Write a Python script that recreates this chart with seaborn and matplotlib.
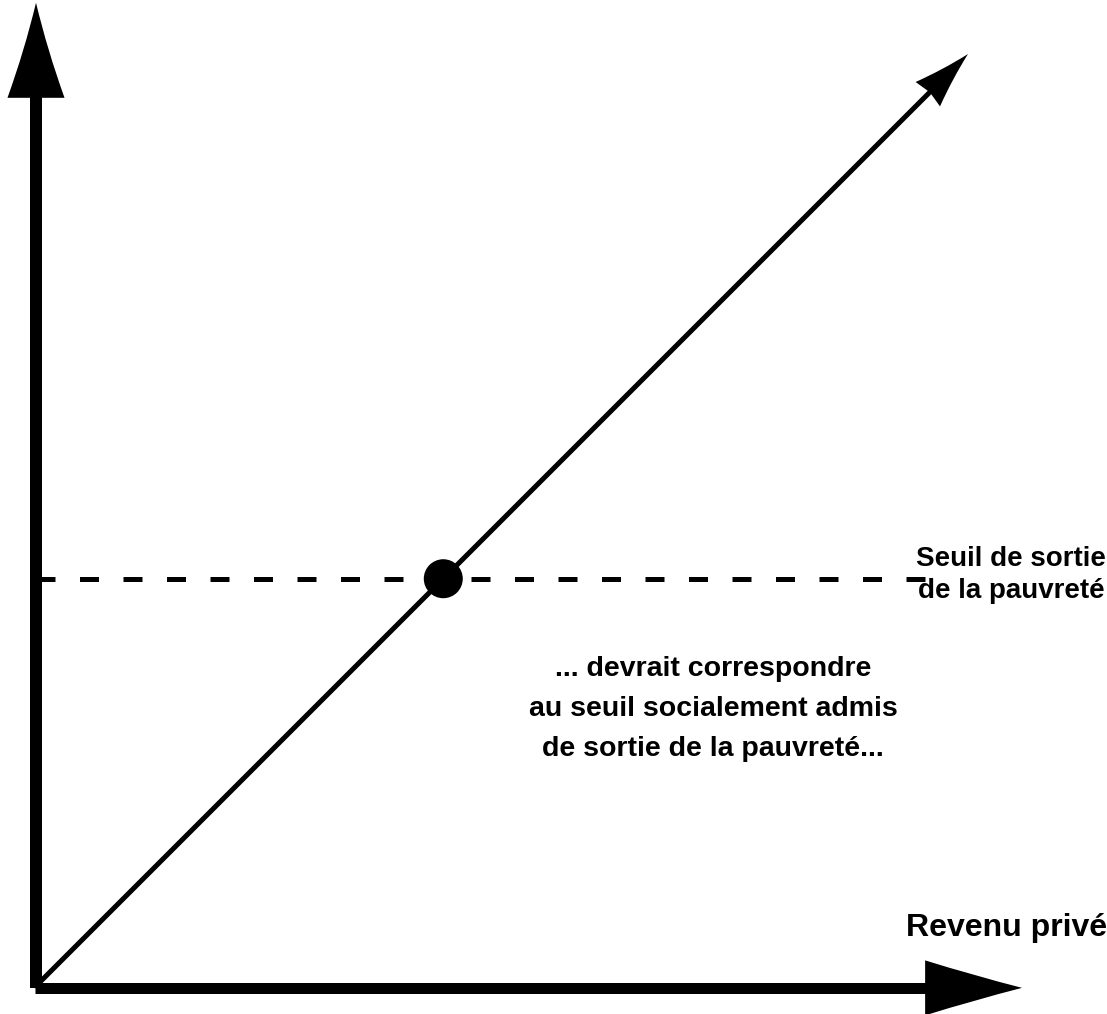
import numpy as np
import pandas as pd
import matplotlib
matplotlib.use("Agg")
import matplotlib.pyplot as plt
from matplotlib.path import Path
from matplotlib.patches import PathPatch
import seaborn as sns

# ---- data (in abstract "income" units; origin at 0) ----
diag_x = [0, 100]          # 45-degree line: public support = private income
diag_y = [0, 100]
seuil = 43.7               # poverty exit threshold
thresh_x = [0, 95.4]
thresh_y = [seuil, seuil]
point_x = [seuil]
point_y = [seuil]

label_x = "Revenu privé"
label_seuil = "Seuil de sortie\nde la pauvreté"
label_note = "... devrait correspondre\nau seuil socialement admis\nde sortie de la pauvreté..."

sns.set_theme(style="white")
plt.rcParams['font.family'] = ['Liberation Sans', 'DejaVu Sans']

W, H, DPI = 1107, 1014, 100
fig = plt.figure(figsize=(W / DPI, H / DPI), dpi=DPI)
ax = fig.add_axes([0, 0, 1, 1])
ax.set_axis_off()

S = 9.32                     # px per data unit
ox, oy = 36, 986             # origin in pixels
ax.set_xlim(-ox / S, (W - ox) / S)
ax.set_ylim(-(H - oy) / S, oy / S)

def arrowhead(tip, direction, length, half_w, inward=0.35, notch=0.0):
    tip = np.asarray(tip, float)
    d = np.asarray(direction, float)
    d = d / np.linalg.norm(d)
    n = np.array([-d[1], d[0]])
    base = tip - d * length
    b1 = base + n * half_w
    b2 = base - n * half_w
    mid = tip - d * length * 0.5
    c1 = mid + n * half_w * 0.5 * (1 - inward)
    c2 = mid - n * half_w * 0.5 * (1 - inward)
    back = base + d * notch
    verts = [tip, c1, b1, back, b2, c2, tip, tip]
    codes = [Path.MOVETO, Path.CURVE3, Path.CURVE3, Path.LINETO,
             Path.LINETO, Path.CURVE3, Path.CURVE3, Path.CLOSEPOLY]
    return PathPatch(Path(verts, codes), facecolor="black", edgecolor="none", zorder=6)

# axes shafts
ax_lw = 12 * 72 / DPI
ax.plot([0, 0], [-0.2, 95.6], color="black", lw=ax_lw, solid_capstyle="butt", zorder=5)
ax.plot([-0.1, 95.6], [-0.2, -0.2], color="black", lw=11 * 72 / DPI, solid_capstyle="butt", zorder=5)
# axis arrowheads
ax.add_patch(arrowhead((0, 105.5), (0, 1), 10.2, 3.06, inward=0.2))
ax.add_patch(arrowhead((105.8, -0.2), (1, 0), 10.4, 2.95, inward=0.1))

line_lw = 5 * 72 / DPI
# diagonal line
dfd = pd.DataFrame({"x": diag_x, "y": diag_y})
head_len = 6.1
shrink = head_len * 0.6 / np.sqrt(2)
dfd_draw = dfd.copy()
dfd_draw.loc[1, ["x", "y"]] = [diag_x[1] - shrink, diag_y[1] - shrink]
sns.lineplot(data=dfd_draw, x="x", y="y", color="black", lw=line_lw, ax=ax,
             estimator=None, sort=False, zorder=4)
ax.add_patch(arrowhead((diag_x[1], diag_y[1]), (1, 1), head_len, 1.85, inward=0.25, notch=0.3))

# dashed threshold
dft = pd.DataFrame({"x": thresh_x, "y": thresh_y})
sns.lineplot(data=dft, x="x", y="y", color="black", lw=line_lw, ax=ax,
             estimator=None, sort=False, zorder=3, dashes=False)
ax.lines[-1].set_dashes((19 / 5, 24.5 / 5))
ax.lines[-1].set_dash_capstyle("butt")

# intersection point
dfp = pd.DataFrame({"x": point_x, "y": point_y})
sns.scatterplot(data=dfp, x="x", y="y", color="black", s=(39 * 72 / DPI) ** 2,
                edgecolor="none", ax=ax, zorder=7)

# texts
ax.text((1107 - ox) / S, (oy - 936) / S, label_x, ha="right", va="baseline",
        fontsize=23, fontweight="bold", color="black")
ax.text((1106 - ox) / S, (oy - 575) / S, label_seuil, ha="right", va="center",
        multialignment="center", fontsize=20, fontweight="bold", color="black",
        linespacing=1.3)
ax.text((713 - ox) / S, (oy - 709) / S, label_note, ha="center", va="center",
        multialignment="center", fontsize=20.5, fontweight="bold", color="black",
        linespacing=1.72)

ax.set_xlabel("")
ax.set_ylabel("")
fig.savefig("out.png", dpi=DPI)
